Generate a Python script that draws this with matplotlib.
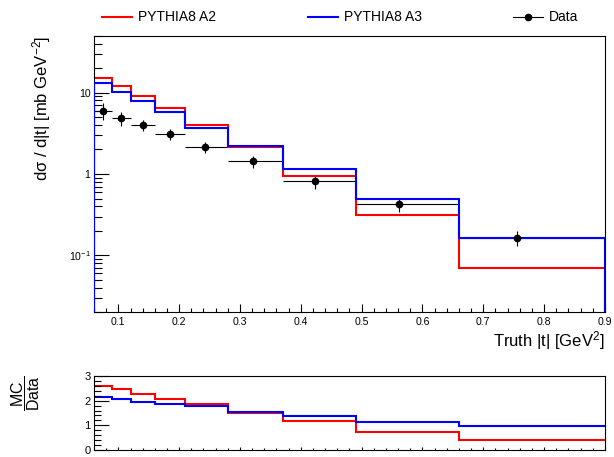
import numpy as np
import matplotlib
matplotlib.use("Agg")
import matplotlib.pyplot as plt
from matplotlib.ticker import MultipleLocator, LogLocator, FixedLocator, FixedFormatter, NullFormatter
from matplotlib.lines import Line2D

# |t| binning and values
edges = [0.06, 0.09, 0.12, 0.16, 0.21, 0.28, 0.37, 0.49, 0.66, 0.9]
pythia_a2 = [15.3, 12.2, 9.2, 6.4, 4.0, 2.14, 0.953, 0.317, 0.0697]
pythia_a3 = [13.0, 10.3, 7.9, 5.7, 3.7, 2.22, 1.15, 0.494, 0.1626]

data_x = [0.075, 0.105, 0.14, 0.185, 0.243, 0.321, 0.4235, 0.561, 0.755]
data_y = [5.97, 4.85, 3.98, 3.09, 2.14, 1.44, 0.81, 0.424, 0.164]
data_err = [1.4, 0.95, 0.6, 0.45, 0.32, 0.24, 0.16, 0.085, 0.035]

ratio_a2 = [2.60, 2.47, 2.28, 2.07, 1.88, 1.49, 1.16, 0.74, 0.41]
ratio_a3 = [2.16, 2.07, 1.96, 1.85, 1.77, 1.54, 1.39, 1.15, 0.96]

legend_labels = ["PYTHIA8 A2", "PYTHIA8 A3", "Data"]
ytick_vals = [0.1, 1, 10]
ytick_labels = ["$10^{-1}$", "1", "10"]

plt.rcParams['font.family'] = ['Liberation Sans', 'DejaVu Sans']
plt.rcParams['mathtext.fontset'] = 'custom'
plt.rcParams['mathtext.rm'] = 'Liberation Sans'
plt.rcParams['mathtext.default'] = 'regular'
plt.rcParams['axes.linewidth'] = 0.8

RED = '#ff0000'
BLUE = '#0000ff'

fig = plt.figure(figsize=(6.14, 4.57), dpi=100)
ax = fig.add_axes([0.1531, 0.3166, 0.8322, 0.6053])
rax = fig.add_axes([0.1531, 0.0153, 0.8322, 0.1619])

# main panel
ax.set_yscale('log')
ax.stairs(pythia_a2, edges, baseline=1e-4, color=RED, lw=1.5, zorder=2)
ax.stairs(pythia_a3, edges, baseline=1e-4, color=BLUE, lw=1.5, zorder=3)

x = np.array(data_x)
lo = x - np.array(edges[:-1])
hi = np.array(edges[1:]) - x
# error bars sit under the histograms, markers on top
ax.errorbar(x, data_y, yerr=data_err, xerr=[lo, hi], fmt='none', ecolor='k',
            lw=0.8, capsize=0, zorder=1)
ax.plot(x, data_y, 'o', color='k', ms=4.5, zorder=5)

ax.set_xlim(0.06, 0.9)
ax.set_ylim(0.02, 50)

ax.xaxis.set_major_locator(MultipleLocator(0.1))
ax.xaxis.set_minor_locator(MultipleLocator(0.02))
ax.yaxis.set_major_locator(FixedLocator(ytick_vals))
ax.yaxis.set_major_formatter(FixedFormatter(ytick_labels))
ax.yaxis.set_minor_locator(LogLocator(base=10, subs=np.arange(2, 10) * 1.0, numticks=20))
ax.yaxis.set_minor_formatter(NullFormatter())

ax.tick_params(which='both', direction='in', top=False, right=False, width=0.8)
ax.tick_params(axis='x', which='major', length=5.8, pad=3.5, labelsize=7.6)
ax.tick_params(axis='x', which='minor', length=2.9)
ax.tick_params(axis='y', which='major', length=10.8, pad=2.5, labelsize=7.6)
ax.tick_params(axis='y', which='minor', length=5.8)

# ratio panel
rax.stairs(ratio_a2, edges, baseline=None, color=RED, lw=1.5)
rax.stairs(ratio_a3, edges, baseline=None, color=BLUE, lw=1.5)
rax.set_xlim(0.06, 0.9)
rax.set_ylim(0, 3)
rax.xaxis.set_major_locator(MultipleLocator(0.1))
rax.xaxis.set_minor_locator(MultipleLocator(0.02))
rax.yaxis.set_major_locator(MultipleLocator(1))
rax.yaxis.set_minor_locator(MultipleLocator(0.2))
rax.tick_params(which='both', direction='in', top=False, right=False, width=0.8)
rax.tick_params(axis='x', which='major', length=2.2, labelbottom=False)
rax.tick_params(axis='x', which='minor', length=1.1)
rax.tick_params(axis='y', which='major', length=10.8, pad=2.5, labelsize=8)
rax.tick_params(axis='y', which='minor', length=5)

# titles
fig.text(0.068, 0.922, 'd\u03c3 / d|t| [mb GeV$^{-2}$]', rotation=90,
         ha='center', va='top', fontsize=12)
fig.text(0.985, 0.254, 'Truth |t| [GeV$^{2}$]', ha='right', va='center', fontsize=12)
fig.text(0.041, 0.14, r'$\dfrac{MC}{Data}$', rotation=90, ha='center', va='center',
         fontsize=11.5)

handles = [Line2D([], [], color=RED, lw=1.5),
           Line2D([], [], color=BLUE, lw=1.5),
           Line2D([], [], color='k', lw=0.8, marker='o', ms=4.5)]
fig.legend(handles, legend_labels, loc='center left', bbox_to_anchor=(0.166, 0.962),
           ncol=3, frameon=False, fontsize=10, handlelength=2.16, handletextpad=0.43,
           columnspacing=6.6, borderpad=0, borderaxespad=0)

fig.savefig('out.png', dpi=100)
